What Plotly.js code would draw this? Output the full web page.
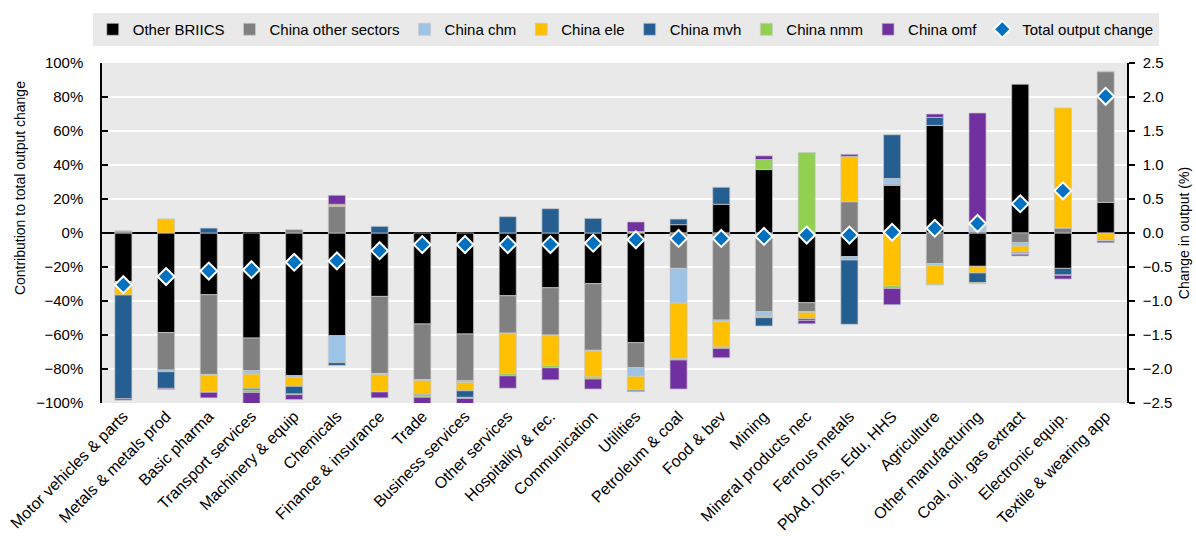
<!DOCTYPE html>
<html>
<head>
<meta charset="utf-8">
<script src="https://cdn.plot.ly/plotly-3.0.1.min.js"></script>
<style>
  html, body { margin: 0; padding: 0; background: #ffffff; }
  #chart { width: 1196px; height: 536px; }
</style>
</head>
<body>
<div id="chart"></div>
<script>
const categories = [
  "Motor vehicles & parts", "Metals & metals prod", "Basic pharma", "Transport services",
  "Machinery & equip", "Chemicals", "Finance & insurance", "Trade", "Business services",
  "Other services", "Hospitality & rec.", "Communication", "Utilities", "Petroleum & coal",
  "Food & bev", "Mining", "Mineral products nec", "Ferrous metals", "PbAd, Dfns, Edu, HHS",
  "Agriculture", "Other manufacturing", "Coal, oil, gas extract", "Electronic equip.",
  "Textile & wearing app"
];

const otherBRIICS = [-28.6, -58.6, -36.3, -61.8, -83.9, -60.4, -37.3, -53.5, -59.4, -36.9, -32.2, -29.8, -64.5, 4.9, 16.9, 37.3, -41.0, -13.9, 28.0, 63.3, -19.6, 87.5, -20.8, 18.0];
const chinaOther  = [1.2, -22.0, -46.9, -19.2, 2.0, 15.7, -45.3, -32.7, -27.5, -22.0, -27.8, -39.2, -14.7, -20.8, -51.2, -46.3, -5.3, 18.4, 0.8, -18.0, 1.0, -5.7, 2.9, 76.9];
const chinaChm    = [-0.3, -1.0, -0.4, -2.0, -1.0, -15.9, -0.8, -0.6, -1.0, -0.4, -0.4, -0.4, -5.1, -20.4, -1.0, -2.9, -0.4, -2.0, 3.3, -1.2, 3.9, -2.0, 0.3, 0.3];
const chinaEle    = [-7.6, 8.2, -9.6, -8.4, -5.3, 1.2, -9.8, -8.2, -4.9, -23.3, -17.5, -15.3, -8.2, -32.7, -14.9, -0.6, -3.7, 26.7, -31.0, -11.0, -3.9, -3.7, 70.4, -3.9];
const chinaMvh    = [-61.0, -9.8, 2.9, -1.0, -4.5, -1.6, 3.9, -0.8, -3.9, 9.6, 14.3, 8.6, -0.8, 3.3, 10.0, -4.9, -1.0, -37.8, 25.7, 4.7, -5.7, -0.8, -3.9, -0.6];
const chinaNmm    = [0.0, 0.0, -0.5, -1.4, -0.4, 0.0, -0.3, -0.8, -0.6, -1.4, -1.4, -1.2, 0.8, -0.8, -0.8, 5.9, 47.3, 0.0, -1.6, -0.4, -0.6, -0.3, -0.2, -0.2];
const chinaOmf    = [-0.8, -0.6, -3.3, -6.5, -2.9, 5.3, -3.5, -3.9, -3.3, -7.3, -7.1, -5.9, 5.7, -17.1, -5.5, 2.2, -2.0, 1.2, -9.6, 2.0, 65.7, -1.0, -2.2, -1.0];
const totalChange = [-0.76, -0.64, -0.56, -0.54, -0.43, -0.41, -0.26, -0.17, -0.17, -0.17, -0.17, -0.15, -0.10, -0.08, -0.08, -0.05, -0.03, -0.03, 0.01, 0.07, 0.14, 0.43, 0.62, 2.01];

const seriesNames = ["Other BRIICS", "China other sectors", "China chm", "China ele", "China mvh", "China nmm", "China omf"];
const seriesValues = [otherBRIICS, chinaOther, chinaChm, chinaEle, chinaMvh, chinaNmm, chinaOmf];
const seriesColors = ["#000000", "#808080", "#9DC3E6", "#FFC000", "#255E91", "#92D050", "#7030A0"];

const traces = seriesNames.map((name, i) => ({
  type: "bar",
  name: name,
  x: categories,
  y: seriesValues[i],
  yaxis: "y",
  marker: { color: seriesColors[i], line: { color: "rgba(200,200,200,0.9)", width: 0.8 } },
  hoverinfo: "x+y+name"
}));

traces.push({
  type: "scatter",
  mode: "markers",
  name: "Total output change",
  x: categories,
  y: totalChange,
  yaxis: "y2",
  marker: { symbol: "diamond", color: "#0070C0", size: 13, line: { color: "#ffffff", width: 2 } }
});

const layout = {
  width: 1196,
  height: 536,
  margin: { l: 102, r: 69, t: 63, b: 133 },
  paper_bgcolor: "#ffffff",
  plot_bgcolor: "#e9e9e9",
  barmode: "relative",
  bargap: 0.6,
  font: { family: "Liberation Sans, Arial, sans-serif", size: 15, color: "#000000" },
  showlegend: true,
  legend: {
    orientation: "h",
    x: -0.009, xanchor: "left",
    y: 1.147, yanchor: "top",
    bgcolor: "#e9e9e9",
    font: { size: 15, color: "#000000" },
    itemwidth: 30,
    traceorder: "normal"
  },
  xaxis: {
    type: "category",
    range: [-0.5, categories.length - 0.5],
    tickangle: -45,
    showgrid: false,
    ticks: "",
    showline: false,
    tickfont: { size: 16 },
    automargin: false
  },
  yaxis: {
    range: [-100, 100],
    dtick: 20,
    tick0: 0,
    ticksuffix: "%",
    showgrid: true,
    gridcolor: "#ffffff",
    gridwidth: 2,
    zeroline: true,
    zerolinecolor: "#000000",
    zerolinewidth: 2,
    showline: true,
    linecolor: "#000000",
    linewidth: 1.5,
    ticks: "inside",
    ticklen: 6,
    tickwidth: 1.5,
    tickcolor: "#000000",
    ticklabelstandoff: 14,
    tickfont: { size: 15 },
    automargin: false
  },
  yaxis2: {
    overlaying: "y",
    side: "right",
    range: [-2.5, 2.5],
    dtick: 0.5,
    tick0: 0,
    tickformat: ".1f",
    showgrid: false,
    zeroline: false,
    showline: true,
    linecolor: "#000000",
    linewidth: 1.5,
    ticks: "outside",
    ticklen: 6,
    tickwidth: 1.5,
    tickcolor: "#000000",
    ticklabelstandoff: 5,
    tickfont: { size: 15 },
    title: { text: "Change in output (%)", font: { size: 14 }, standoff: 8 },
    automargin: false
  },
  annotations: [
    {
      text: "Contribution to total output change",
      textangle: -90,
      xref: "paper", yref: "paper",
      x: -0.08, xanchor: "center",
      y: 0.632, yanchor: "middle",
      showarrow: false,
      font: { size: 14, color: "#000000" }
    }
  ]
};

Plotly.newPlot("chart", traces, layout, { displayModeBar: false });
</script>
</body>
</html>
